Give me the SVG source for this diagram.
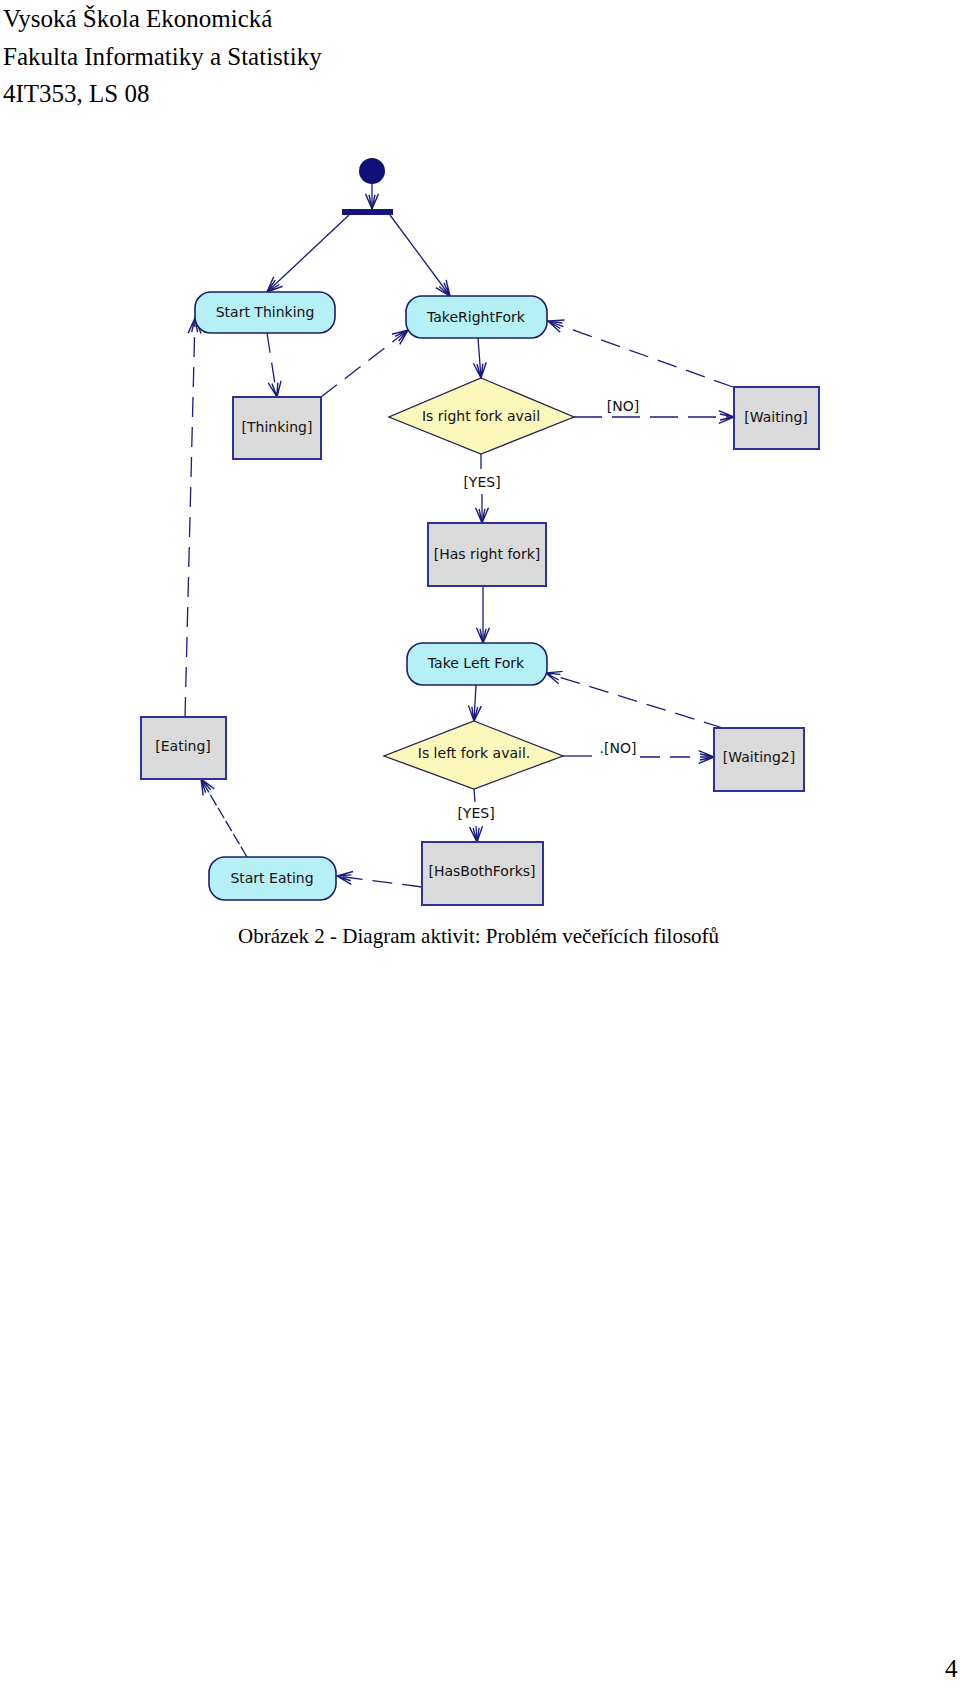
<svg xmlns="http://www.w3.org/2000/svg" width="960" height="1696" viewBox="0 0 960 1696">
<style>
.hdr{font-family:"Liberation Serif","Times New Roman",serif;font-size:25px;fill:#000}
.cap{font-family:"Liberation Serif","Times New Roman",serif;font-size:21px;fill:#000}
.lbl{font-family:"DejaVu Sans",Verdana,sans-serif;font-size:14px;fill:#111;text-anchor:middle}
.act{fill:#b4f0f6;stroke:#1c1c6c;stroke-width:1.6}
.obj{fill:#dadada;stroke:#30309a;stroke-width:2}
.dec{fill:#fcf8bc;stroke:#22224a;stroke-width:1.3}
.c{fill:none;stroke:#1a1a80;stroke-width:1.3}
.d{stroke-dasharray:20 10}
.d2{stroke-dasharray:28 10}
.d3{stroke-dasharray:12 3}
</style>
<defs>
<marker id="arr" markerUnits="userSpaceOnUse" markerWidth="20" markerHeight="20" viewBox="-15 -8 17 16" refX="0" refY="0" orient="auto" overflow="visible">
<path d="M-13,-5.5 L0,0 L-13,5.5 M-12,-2.5 L0,0 L-12,2.5" fill="none" stroke="#1a1a80" stroke-width="1.2"/>
</marker>
</defs>
<rect width="960" height="1696" fill="#fff"/>
<g id="header">
<text class="hdr" x="3" y="27">Vysoká Škola Ekonomická</text>
<text class="hdr" x="3" y="64.5">Fakulta Informatiky a Statistiky</text>
<text class="hdr" x="3" y="102">4IT353, LS 08</text>
</g>
<g id="connectors">
<line class="c" x1="372" y1="184" x2="372" y2="209" marker-end="url(#arr)"/>
<line class="c" x1="349" y1="215" x2="267" y2="292" marker-end="url(#arr)"/>
<line class="c" x1="390" y1="215" x2="450" y2="296" marker-end="url(#arr)"/>
<line class="c d" x1="267" y1="333" x2="277" y2="397" marker-end="url(#arr)"/>
<line class="c d" x1="321" y1="397" x2="408" y2="330" marker-end="url(#arr)"/>
<line class="c" x1="478" y1="338" x2="481" y2="378" marker-end="url(#arr)"/>
<line class="c d2" x1="574" y1="417" x2="734" y2="417" marker-end="url(#arr)"/>
<line class="c d" x1="733" y1="387" x2="548" y2="321" marker-end="url(#arr)"/>
<line class="c" x1="481" y1="454" x2="481" y2="469"/>
<line class="c" x1="482" y1="494" x2="482" y2="523" marker-end="url(#arr)"/>
<line class="c" x1="483" y1="586" x2="483" y2="643" marker-end="url(#arr)"/>
<line class="c" x1="476" y1="685" x2="474" y2="721" marker-end="url(#arr)"/>
<line class="c" x1="563" y1="756" x2="592" y2="756"/>
<line class="c d" x1="640" y1="757" x2="714" y2="757" marker-end="url(#arr)"/>
<line class="c d" x1="723" y1="728" x2="546" y2="673" marker-end="url(#arr)"/>
<line class="c" x1="474" y1="789" x2="475" y2="802"/>
<line class="c" x1="476" y1="826" x2="477" y2="842" marker-end="url(#arr)"/>
<line class="c d" x1="422" y1="887" x2="337" y2="876" marker-end="url(#arr)"/>
<line class="c d3" x1="247" y1="857" x2="201" y2="779" marker-end="url(#arr)"/>
<line class="c d" x1="185" y1="717" x2="195" y2="318" marker-end="url(#arr)"/>
<text class="lbl" x="623" y="411">[NO]</text>
<text class="lbl" x="482" y="487">[YES]</text>
<text class="lbl" x="618" y="753">.[NO]</text>
<text class="lbl" x="476" y="818">[YES]</text>
</g>
<g id="start">
<circle cx="372" cy="171" r="13" fill="#10107a"/>
</g>
<g id="fork">
<rect x="342" y="209" width="51" height="6" fill="#14147a"/>
</g>
<g id="startThinking">
<rect class="act" x="195" y="292" width="140" height="41" rx="16"/>
<text class="lbl" x="265" y="317">Start Thinking</text>
</g>
<g id="takeRightFork">
<rect class="act" x="406" y="296" width="141" height="42" rx="16"/>
<text class="lbl" x="476" y="322">TakeRightFork</text>
</g>
<g id="thinking">
<rect class="obj" x="233" y="397" width="88" height="62"/>
<text class="lbl" x="277" y="432">[Thinking]</text>
</g>
<g id="rightForkDecision">
<polygon class="dec" points="481,378 574,417 481,454 389,417"/>
<text class="lbl" x="481" y="421">Is right fork avail</text>
</g>
<g id="waiting">
<rect class="obj" x="734" y="387" width="85" height="62"/>
<text class="lbl" x="776" y="422">[Waiting]</text>
</g>
<g id="hasRightFork">
<rect class="obj" x="428" y="523" width="118" height="63"/>
<text class="lbl" x="487" y="559">[Has right fork]</text>
</g>
<g id="takeLeftFork">
<rect class="act" x="407" y="643" width="140" height="42" rx="16"/>
<text class="lbl" x="476" y="668">Take Left Fork</text>
</g>
<g id="leftForkDecision">
<polygon class="dec" points="474,721 563,756 474,789 384,756"/>
<text class="lbl" x="474" y="758">Is left fork avail.</text>
</g>
<g id="waiting2">
<rect class="obj" x="714" y="728" width="90" height="63"/>
<text class="lbl" x="759" y="762">[Waiting2]</text>
</g>
<g id="hasBothForks">
<rect class="obj" x="422" y="842" width="121" height="63"/>
<text class="lbl" x="482" y="876">[HasBothForks]</text>
</g>
<g id="startEating">
<rect class="act" x="209" y="857" width="127" height="43" rx="16"/>
<text class="lbl" x="272" y="883">Start Eating</text>
</g>
<g id="eating">
<rect class="obj" x="141" y="717" width="85" height="62"/>
<text class="lbl" x="183" y="751">[Eating]</text>
</g>
<g id="caption">
<text class="cap" x="238" y="943">Obrázek 2 - Diagram aktivit: Problém večeřících filosofů</text>
<text class="hdr" x="945" y="1677">4</text>
</g>
</svg>
